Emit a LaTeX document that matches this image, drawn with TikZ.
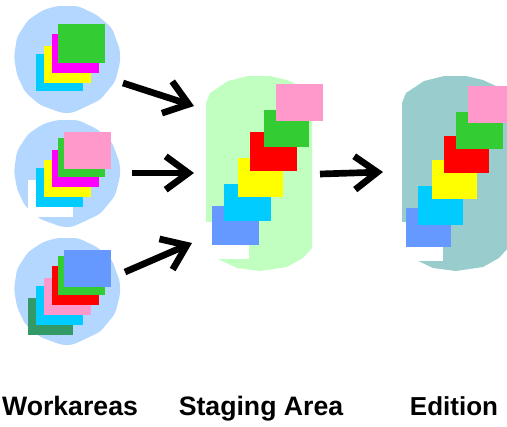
\documentclass[tikz,border=0pt]{standalone}
\usepackage{fontspec}
\setmainfont{Liberation Sans}
\usetikzlibrary{arrows.meta}
\definecolor{blobblue}{HTML}{B3D7FF}
\definecolor{blobgreen}{HTML}{C0FFC0}
\definecolor{blobteal}{HTML}{99CCCC}
\definecolor{sheetcyan}{HTML}{00CCFF}
\definecolor{sheetgreen}{HTML}{33CC33}
\definecolor{sheetpink}{HTML}{FF99CC}
\definecolor{sheetblue}{HTML}{6699FF}
\definecolor{sheetsea}{HTML}{339966}
\definecolor{sheetyellow}{HTML}{FFFF00}
\definecolor{sheetmagenta}{HTML}{FF00FF}
\definecolor{sheetred}{HTML}{FF0000}
\tikzset{
    bigarrow/.style={line width=5pt, -{Straight Barb[length=17pt, width=25pt, line width=5pt]}},
    caption/.style={font=\bfseries\fontsize{20pt}{22pt}\selectfont, anchor=base}
}
\begin{document}
\begin{tikzpicture}[x=0.75pt, y=-0.75pt]
    \useasboundingbox ( 0, 0 ) rectangle ( 507, 426 );
    \clip ( 0, 0 ) rectangle ( 507, 426 );

    % круги
    \foreach \dy in {0,114,232} {
        \path [fill=blobblue, rounded corners=3pt, shift={( 0, \dy )}]
            ( 57, 6 ) -- ( 78, 6 ) -- ( 97, 15 ) -- ( 112, 28 ) -- ( 120, 50 )
            -- ( 120, 63 ) -- ( 115, 82 ) -- ( 100, 100 ) -- ( 83, 108 ) -- ( 72, 113 )
            -- ( 62, 113 ) -- ( 40, 105 ) -- ( 25, 92 ) -- ( 17, 75 ) -- ( 14, 57 )
            -- ( 17, 37 ) -- ( 28, 20 ) -- ( 43, 10 ) -- cycle;
    }

    % области
    \foreach \dx/\blobcolor in {0/blobgreen,196/blobteal} {
        \path [fill=\blobcolor, shift={( \dx, 0 )}]
            ( 206, 103 ) -- ( 210, 93 ) -- ( 228, 81 ) -- ( 248, 76 ) -- ( 270, 76 )
            -- ( 287, 80 ) -- ( 300, 86 ) -- ( 312, 110 ) -- ( 312, 248 ) -- ( 303, 258 )
            -- ( 287, 267 ) -- ( 260, 271 ) -- ( 237, 268 ) -- ( 218, 259 ) -- ( 206, 240 ) -- cycle;
    }

    % первая стопка
    \path [fill=sheetcyan] ( 36, 54 ) rectangle ( 83, 91 );
    \path [fill=sheetyellow] ( 44, 46 ) rectangle ( 91, 83 );
    \path [fill=sheetmagenta] ( 52, 34 ) rectangle ( 99, 73 );
    \path [fill=sheetgreen] ( 58, 24 ) rectangle ( 105, 63 );

    % вторая стопка
    \path [fill=white] ( 28, 180 ) rectangle ( 73, 217 );
    \path [fill=sheetcyan] ( 36, 168 ) rectangle ( 83, 207 );
    \path [fill=sheetyellow] ( 44, 160 ) rectangle ( 91, 197 );
    \path [fill=sheetmagenta] ( 52, 150 ) rectangle ( 99, 187 );
    \path [fill=sheetgreen] ( 58, 138 ) rectangle ( 105, 177 );
    \path [fill=sheetpink] ( 64, 132 ) rectangle ( 111, 169 );

    % третья стопка
    \path [fill=sheetsea] ( 28, 298 ) rectangle ( 73, 335 );
    \path [fill=sheetcyan] ( 36, 286 ) rectangle ( 83, 325 );
    \path [fill=sheetpink] ( 44, 278 ) rectangle ( 91, 315 );
    \path [fill=sheetred] ( 52, 266 ) rectangle ( 99, 305 );
    \path [fill=sheetgreen] ( 58, 256 ) rectangle ( 105, 295 );
    \path [fill=sheetblue] ( 64, 250 ) rectangle ( 111, 287 );

    % промежуточная область
    \path [fill=white] ( 200, 222 ) rectangle ( 249, 259 );
    \path [fill=sheetblue] ( 212, 206 ) rectangle ( 259, 245 );
    \path [fill=sheetcyan] ( 224, 184 ) rectangle ( 271, 221 );
    \path [fill=sheetyellow] ( 238, 158 ) rectangle ( 283, 197 );
    \path [fill=sheetred] ( 250, 132 ) rectangle ( 297, 171 );
    \path [fill=sheetgreen] ( 264, 110 ) rectangle ( 309, 147 );
    \path [fill=sheetpink] ( 276, 84 ) rectangle ( 323, 121 );

    % издание
    \path [fill=white] ( 396, 222 ) rectangle ( 443, 261 );
    \path [fill=sheetblue] ( 406, 208 ) rectangle ( 451, 247 );
    \path [fill=sheetcyan] ( 418, 186 ) rectangle ( 463, 225 );
    \path [fill=sheetyellow] ( 432, 160 ) rectangle ( 477, 199 );
    \path [fill=sheetred] ( 444, 136 ) rectangle ( 489, 173 );
    \path [fill=sheetgreen] ( 456, 112 ) rectangle ( 503, 149 );
    \path [fill=sheetpink] ( 468, 86 ) rectangle ( 507, 123 );

    % стрелки
    \coordinate (workout1) at ( 123, 83 );
    \coordinate (workout2) at ( 132, 173 );
    \coordinate (workout3) at ( 125, 272 );
    \coordinate (stagein1) at ( 194, 106 );
    \coordinate (stagein2) at ( 194, 173 );
    \coordinate (stagein3) at ( 192, 243 );
    \coordinate (stageout) at ( 320, 174 );
    \coordinate (editionin) at ( 383, 172 );
    \draw [bigarrow] (workout1) -- (stagein1);
    \draw [bigarrow] (workout2) -- (stagein2);
    \draw [bigarrow] (workout3) -- (stagein3);
    \draw [bigarrow] (stageout) -- (editionin);

    % подписи
    \node [caption] (workareas) at ( 70, 415 ) {Workareas};
    \node [caption] (staging) at ( 261, 415 ) {Staging Area};
    \node [caption, font=\bfseries\fontsize{19.5pt}{21pt}\selectfont] (edition) at ( 454, 415 ) {Edition};
\end{tikzpicture}
\end{document}
